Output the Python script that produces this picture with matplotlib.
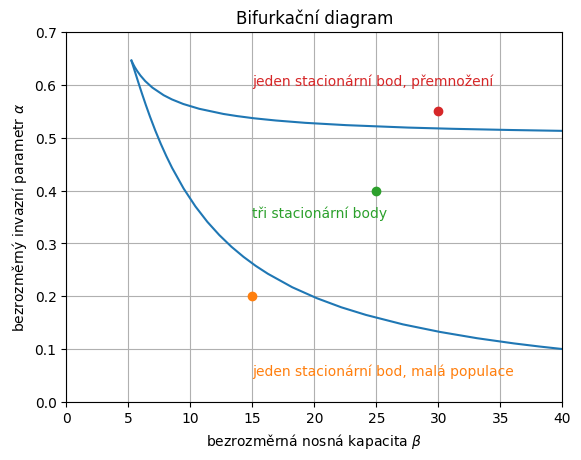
import matplotlib
matplotlib.use("Agg")
import matplotlib.pyplot as plt

# bifurcation curve (beta, alpha)
upper_beta = [5.251, 5.40, 5.530, 5.717, 5.983, 6.368, 6.944, 7.855, 8.524,
              9.432, 10.720, 12.676, 13.770, 15.141, 16.909, 19.272, 22.588,
              27.570, 31.133, 35.886, 40.0]
upper_alpha = [0.6464, 0.6391, 0.6334, 0.6264, 0.6177, 0.6072, 0.5949, 0.5805,
               0.5725, 0.5639, 0.5548, 0.5450, 0.5410, 0.5368, 0.5326, 0.5282,
               0.5238, 0.5192, 0.5169, 0.5146, 0.5130]

lower_beta = [5.256, 5.333, 5.432, 5.546, 5.672, 5.808, 5.952, 6.103, 6.419,
              6.75, 7.180, 7.622, 8.074, 8.533, 9.468, 10.417, 11.376, 12.343,
              13.315, 14.292, 15.271, 16.254, 18.225, 20.202, 22.183, 24.168,
              27.149, 30.134, 33.122, 36.111, 38.106, 40.0]
lower_alpha = [0.6455, 0.640, 0.6328, 0.6244, 0.6151, 0.6050, 0.5945, 0.5837,
               0.5618, 0.540, 0.5135, 0.4884, 0.4649, 0.4429, 0.4036, 0.3698,
               0.3407, 0.3156, 0.2936, 0.2744, 0.2574, 0.2424, 0.2168, 0.1961,
               0.1788, 0.1644, 0.1465, 0.1322, 0.1203, 0.1104, 0.1047, 0.0998]

# sample points and labels
pt_beta = [15, 25, 30]
pt_alpha = [0.2, 0.4, 0.55]
pt_color = ['C1', 'C2', 'C3']
labels = ['jeden stacionární bod, malá populace',
          'tři stacionární body',
          'jeden stacionární bod, přemnožení']
label_alpha = [0.05, 0.35, 0.6]

fig, ax = plt.subplots(figsize=(6.4, 4.8))
ax.plot(upper_beta, upper_alpha, color='C0')
ax.plot(lower_beta, lower_alpha, color='C0')

for b, a, c, txt, ya in zip(pt_beta, pt_alpha, pt_color, labels, label_alpha):
    ax.plot(b, a, 'o', color=c)
    ax.text(15, ya, txt, color=c)

ax.set_xlim(0, 40)
ax.set_ylim(0, 0.7)
ax.grid(True)
ax.set_title('Bifurkační diagram')
ax.set_xlabel(r'bezrozměrná nosná kapacita $\beta$')
ax.set_ylabel(r'bezrozměrný invazní parametr $\alpha$')

fig.savefig('out.png', dpi=100, bbox_inches='tight')
